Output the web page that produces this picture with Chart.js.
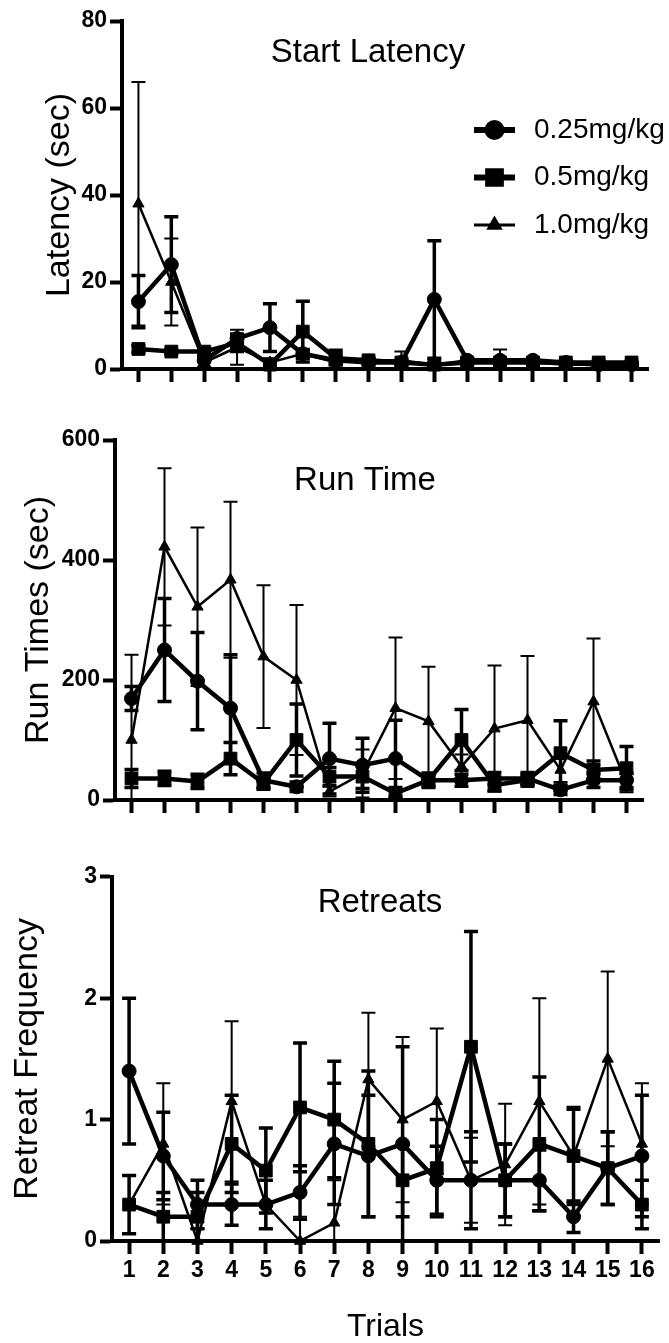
<!DOCTYPE html>
<html>
<head>
<meta charset="utf-8">
<script src="https://cdn.jsdelivr.net/npm/chart.js@4.4.1/dist/chart.umd.min.js"></script>
<style>
  html, body { margin: 0; padding: 0; background: #fff; }
  #wrap { position: relative; width: 669px; height: 1343px; }
  canvas { position: absolute; left: 0; }
</style>
</head>
<body>
<div id="wrap">
  <canvas id="latency" width="669" height="400" style="top:0"></canvas>
  <canvas id="runtime" width="669" height="460" style="top:400px"></canvas>
  <canvas id="retreats" width="669" height="483" style="top:860px"></canvas>
</div>
<script>
// ---- data ----
const trials = [1, 2, 3, 4, 5, 6, 7, 8, 9, 10, 11, 12, 13, 14, 15, 16];
const doses = ['0.25mg/kg', '0.5mg/kg', '1.0mg/kg'];

// Start latency (sec), mean and SEM
const latLow = [15.5, 24, 2, 7, 9.5, 3.5, 2, 1.5, 1.5, 16, 2, 2, 2, 1.5, 1, 1];
const latLowErr = [6, 11, 2, 1, 5.5, 1, 1, 0.5, 0.5, 13.5, 0.5, 0.5, 0.5, 0.5, 0.3, 0.3];
const latMid = [4.6, 4, 4, 6, 1, 8.6, 2.5, 2, 1.5, 1, 1.5, 1.5, 1.5, 1.5, 1.5, 1.5];
const latMidErr = [0.8, 0.5, 0.8, 2, 0.5, 7, 1.5, 0.5, 0.5, 0.3, 0.5, 0.5, 0.5, 0.3, 0.3, 0.3];
const latHigh = [38, 20, 1.5, 5, 1.5, 3.5, 1.5, 2, 2, 1, 2, 2, 1.5, 1, 1, 1];
const latHighErr = [28, 10, 1, 4, 1, 1, 3, 0.5, 2, 0.5, 0.5, 2.5, 0.5, 0.3, 0.3, 0.3];

// Run times (sec)
const runLow = [169, 250, 198, 153, 33, 22, 69, 58, 69, 33, 33, 36, 36, 17, 33, 33];
const runLowErr = [20, 86, 81, 89, 12, 8, 59, 45, 64, 10, 10, 10, 10, 8, 12, 12];
const runMid = [36, 36, 31, 69, 28, 100, 39, 39, 11, 33, 100, 25, 33, 78, 50, 53];
const runMidErr = [15, 12, 12, 27, 10, 60, 15, 20, 10, 12, 51, 10, 10, 54, 15, 36];
const runHigh = [100, 422, 322, 367, 239, 200, 14, 44, 153, 131, 56, 119, 133, 50, 164, 28];
const runHighErr = [142, 131, 132, 130, 119, 125, 8, 40, 118, 91, 20, 105, 107, 20, 105, 15];

// Retreat frequency
const retLow = [1.4, 0.7, 0.3, 0.3, 0.3, 0.4, 0.8, 0.7, 0.8, 0.5, 0.5, 0.5, 0.5, 0.2, 0.6, 0.7];
const retLowErr = [0.6, 0.36, 0.2, 0.17, 0.2, 0.22, 0.5, 0.5, 0.8, 0.28, 0.4, 0.3, 0.25, 0.13, 0.3, 0.5];
const retMid = [0.3, 0.2, 0.2, 0.8, 0.58, 1.1, 1.0, 0.8, 0.5, 0.6, 1.6, 0.5, 0.8, 0.7, 0.6, 0.3];
const retMidErr = [0.24, 0.2, 0.2, 0.4, 0.35, 0.53, 0.48, 0.6, 0.3, 0.4, 0.95, 0.3, 0.55, 0.4, 0.3, 0.2];
const retHigh = [0.3, 0.8, 0, 1.15, 0.3, 0, 0.15, 1.33, 1.0, 1.15, 0.5, 0.63, 1.15, 0.7, 1.5, 0.8];
const retHighErr = [0.24, 0.5, 0.1, 0.66, 0.2, 0.2, 0.35, 0.55, 0.68, 0.6, 0.35, 0.5, 0.85, 0.38, 0.72, 0.5];

// ---- styling ----
const FONT = "'Liberation Sans', Arial, Helvetica, sans-serif";
const markers = [
  {pointStyle: 'circle', radius: 7, lineWidth: 4.5, errWidth: 3.5},
  {pointStyle: 'rect', radius: 9, lineWidth: 4.5, errWidth: 3.5},
  {pointStyle: 'triangle', radius: 6.5, lineWidth: 2.5, errWidth: 2}
];

function series(i, values, errs) {
  const m = markers[i];
  return {
    label: doses[i],
    data: trials.map((t, k) => ({x: t, y: values[k]})),
    errors: errs,
    errWidth: m.errWidth,
    borderColor: '#000',
    backgroundColor: '#000',
    borderWidth: m.lineWidth,
    pointStyle: m.pointStyle,
    pointRadius: m.radius,
    pointBackgroundColor: '#000',
    pointBorderColor: '#000',
    pointBorderWidth: 1,
    tension: 0,
    clip: false
  };
}

const errorBars = {
  id: 'errorBars',
  beforeDatasetsDraw(chart) {
    const {ctx, scales: {x, y}} = chart;
    ctx.save();
    ctx.strokeStyle = '#000';
    chart.data.datasets.forEach(ds => {
      ctx.lineWidth = ds.errWidth;
      ds.data.forEach((p, k) => {
        const e = ds.errors[k];
        const px = x.getPixelForValue(p.x);
        const hi = y.getPixelForValue(p.y + e);
        const loVal = p.y - e;
        const lo = y.getPixelForValue(Math.max(loVal, 0));
        ctx.beginPath();
        ctx.moveTo(px, hi);
        ctx.lineTo(px, lo);
        ctx.moveTo(px - 7, hi);
        ctx.lineTo(px + 7, hi);
        if (loVal >= 0) {
          ctx.moveTo(px - 7, lo);
          ctx.lineTo(px + 7, lo);
        }
        ctx.stroke();
      });
    });
    ctx.restore();
  }
};

const panelTitle = {
  id: 'panelTitle',
  afterDraw(chart, args, opts) {
    const ctx = chart.ctx;
    ctx.save();
    ctx.fillStyle = '#000';
    ctx.font = '33px ' + FONT;
    ctx.textAlign = 'center';
    ctx.textBaseline = 'alphabetic';
    ctx.fillText(opts.text, opts.x, opts.y);
    ctx.restore();
  }
};

const doseLegend = {
  id: 'doseLegend',
  afterDraw(chart, args, opts) {
    if (!opts.show) return;
    const ctx = chart.ctx;
    ctx.save();
    chart.data.datasets.forEach((ds, i) => {
      const yy = opts.y + i * opts.gap;
      ctx.strokeStyle = '#000';
      ctx.lineWidth = i === 2 ? 3 : 6;
      ctx.beginPath();
      ctx.moveTo(opts.x, yy);
      ctx.lineTo(opts.x + opts.len, yy);
      ctx.stroke();
      ctx.fillStyle = '#000';
      Chart.helpers.drawPoint(ctx, {
        pointStyle: ds.pointStyle, radius: ds.pointRadius, rotation: 0, borderWidth: 1
      }, opts.x + opts.len / 2, yy);
      ctx.font = '28px ' + FONT;
      ctx.textAlign = 'left';
      ctx.textBaseline = 'middle';
      ctx.fillText(ds.label, opts.textX, yy);
    });
    ctx.restore();
  }
};

function makePanel(id, cfg) {
  const xTicks = trials.map(v => ({value: v}));
  new Chart(document.getElementById(id), {
    type: 'line',
    data: {datasets: cfg.datasets},
    plugins: [errorBars, panelTitle, doseLegend],
    options: {
      responsive: false,
      animation: false,
      events: [],
      layout: {padding: cfg.padding},
      plugins: {
        legend: {display: false},
        tooltip: {enabled: false},
        panelTitle: cfg.title,
        doseLegend: cfg.legend || {show: false}
      },
      scales: {
        x: {
          type: 'linear',
          min: 0.5,
          max: 16.5,
          afterBuildTicks: s => { s.ticks = xTicks.map(t => ({value: t.value})); },
          afterFit: s => { s.height = cfg.xHeight; },
          grid: {drawOnChartArea: false, tickLength: 13, tickWidth: 4, tickColor: '#000'},
          border: {display: true, width: 4, color: '#000'},
          ticks: {
            padding: 3,
            color: '#000',
            maxRotation: 0,
            autoSkip: false,
            font: {family: FONT, size: 23, weight: 'bold'},
            callback: v => cfg.xLabels ? String(v) : ''
          },
          title: cfg.xTitle ? {
            display: true, text: cfg.xTitle, color: '#000',
            font: {family: FONT, size: 32, lineHeight: 1}, padding: 0
          } : {display: false}
        },
        y: {
          min: 0,
          max: cfg.yMax,
          afterFit: s => { s.width = cfg.yWidth; },
          grid: {drawOnChartArea: false, tickLength: 12, tickWidth: 4, tickColor: '#000'},
          border: {display: true, width: 4, color: '#000'},
          ticks: {
            stepSize: cfg.yStep,
            padding: 3,
            color: '#000',
            font: {family: FONT, size: 23, weight: 'bold'}
          },
          title: {
            display: true, text: cfg.yTitle, color: '#000',
            font: {family: FONT, size: 34, lineHeight: 1}, padding: 0
          }
        }
      }
    }
  });
}

makePanel('latency', {
  datasets: [series(0, latLow, latLowErr), series(1, latMid, latMidErr), series(2, latHigh, latHighErr)],
  padding: {left: 43, top: 21, right: 21, bottom: 0},
  yWidth: 79, xHeight: 31,
  yMax: 80, yStep: 20, yTitle: 'Latency (sec)',
  title: {text: 'Start Latency', x: 368, y: 62},
  legend: {show: true, x: 474, len: 41, textX: 534, y: 130, gap: 47.5}
});

makePanel('runtime', {
  datasets: [series(0, runLow, runLowErr), series(1, runMid, runMidErr), series(2, runHigh, runHighErr)],
  padding: {left: 22, top: 40, right: 26, bottom: 0},
  yWidth: 93, xHeight: 60,
  yMax: 600, yStep: 200, yTitle: 'Run Times (sec)',
  title: {text: 'Run Time', x: 365, y: 90}
});

makePanel('retreats', {
  datasets: [series(0, retLow, retLowErr), series(1, retMid, retMidErr), series(2, retHigh, retHighErr)],
  padding: {left: 11, top: 14, right: 7, bottom: 0},
  yWidth: 101, xHeight: 102,
  yMax: 3, yStep: 1, yTitle: 'Retreat Frequency',
  xLabels: true, xTitle: 'Trials',
  title: {text: 'Retreats', x: 380, y: 52}
});
</script>
</body>
</html>
